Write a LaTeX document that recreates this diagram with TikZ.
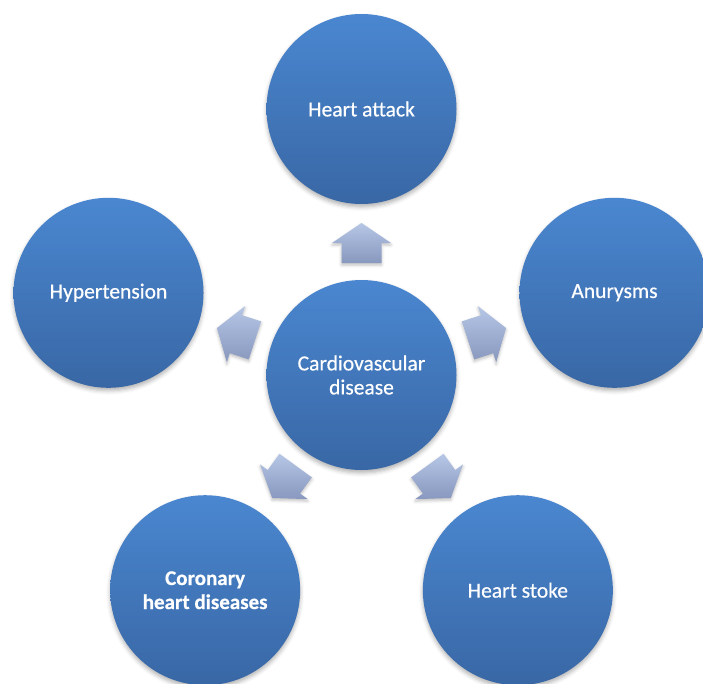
\documentclass[tikz,border=0pt]{standalone}
\usepackage{fontspec}
\setmainfont{Carlito}[FakeBold=0.5]
\usetikzlibrary{calc,shadows.blur}
\definecolor{cTop}{RGB}{74,135,208}
\definecolor{cBot}{RGB}{57,103,165}
\definecolor{aTop}{RGB}{182,198,230}
\definecolor{aBot}{RGB}{136,152,190}
\begin{document}
\begin{tikzpicture}[x=1pt,y=-1pt,
  bubble/.style={circle, minimum size=190pt, inner sep=0pt, draw=none,
    top color=cTop, bottom color=cBot, text=white, align=center,
    font=\fontsize{21.5}{24}\selectfont,
    blur shadow={shadow xshift=0pt, shadow yshift=-3pt, shadow blur radius=4pt, shadow opacity=30}},
  arrowshape/.style={top color=aTop, bottom color=aBot, draw=none,
    blur shadow={shadow xshift=0pt, shadow yshift=-2pt, shadow blur radius=3pt, shadow opacity=25}}]
\useasboundingbox (0,0) rectangle (703,683);
\clip (0,0) rectangle (703,683);
\coordinate (c) at (361.5,375);
\node[bubble] (center) at (c) {Cardiovascular\\disease};
\node[bubble] (attack) at ($(c)+(270:266)$) {Heart attack};
\node[bubble] (anur) at ($(c)+(342:266)$) {Anurysms};
\node[bubble] (stoke) at ($(c)+(54:266)$) {Heart stoke};
\node[bubble, font=\fontsize{21}{24}\selectfont] (coron) at ($(c)+(126:266)$) {\bfseries Coronary\\\bfseries heart diseases};
\node[bubble] (hyper) at ($(c)+(198:266)$) {Hypertension};
\foreach \a in {270,342,54,126,198}{
  \path[arrowshape] ($(center.center)+(\a:112)+(\a+90:20)$) -- ($(center.center)+(\a:132)+(\a+90:20)$)
    -- ($(center.center)+(\a:132)+(\a+90:29.5)$) -- ($(center.center)+(\a:152)$)
    -- ($(center.center)+(\a:132)+(\a-90:29.5)$) -- ($(center.center)+(\a:132)+(\a-90:20)$)
    -- ($(center.center)+(\a:112)+(\a-90:20)$) -- cycle;
}
\end{tikzpicture}
\end{document}
